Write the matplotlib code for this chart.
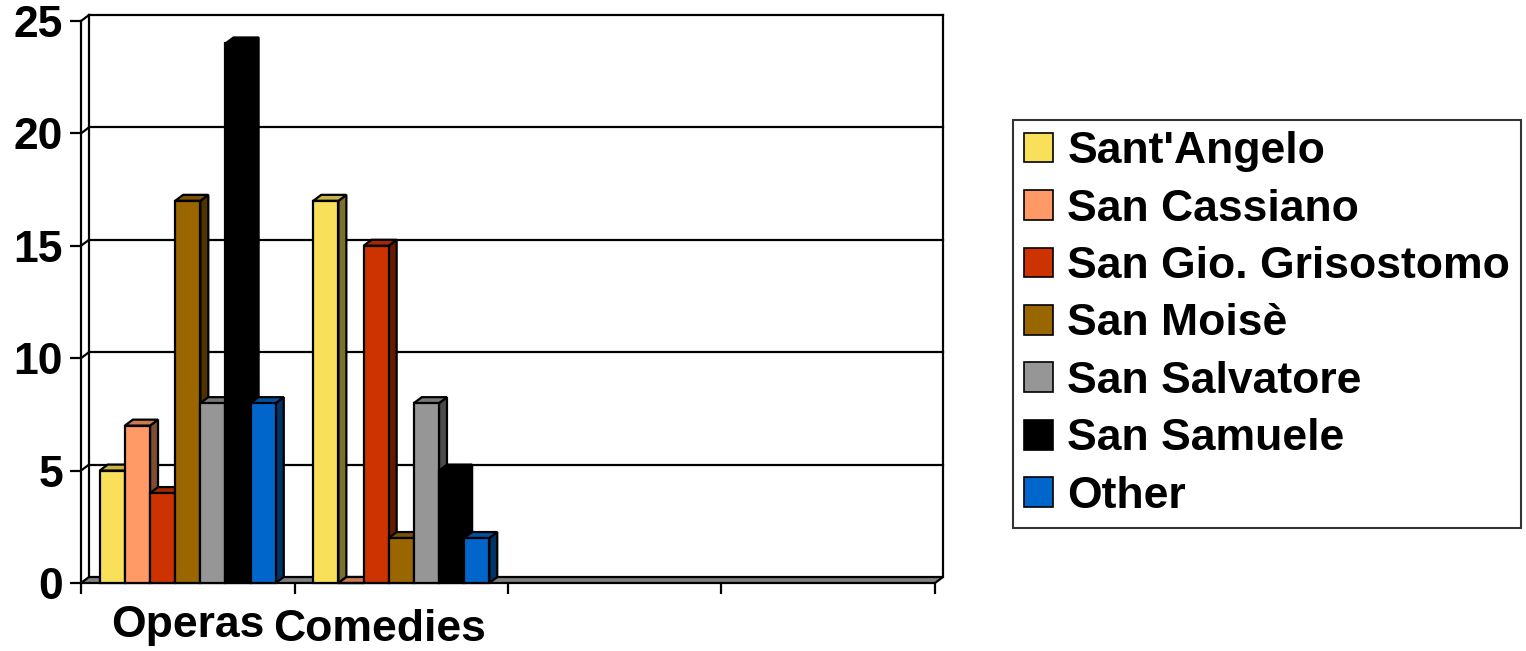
import numpy as np
import matplotlib
matplotlib.use('Agg')
import matplotlib.pyplot as plt
from matplotlib.patches import Polygon, Patch
from matplotlib.transforms import ScaledTranslation

plt.rcParams['font.family'] = ['Liberation Sans', 'DejaVu Sans']
plt.rcParams['font.weight'] = 'bold'

categories = ['Operas', 'Comedies', '', '']
series = ["Sant'Angelo", 'San Cassiano', 'San Gio. Grisostomo', 'San Moisè',
          'San Salvatore', 'San Samuele', 'Other']
operas = [5, 7, 4, 17, 8, 24, 8]
comedies = [17, 0, 15, 2, 8, 5, 2]
empty3 = [0, 0, 0, 0, 0, 0, 0]
empty4 = [0, 0, 0, 0, 0, 0, 0]
colors = ['#F9E05A', '#FF9966', '#CC3300', '#996600', '#969696', '#000000', '#0066CC']

values = np.array([operas, comedies, empty3, empty4])  # categories x series
show = [True, True, False, False]

W, H = 1526, 651
fig = plt.figure(figsize=(W / 100, H / 100), dpi=100)
ax = fig.add_axes([81 / W, (H - 583) / H, 854 / W, (583 - 21) / H])
ax.set_xlim(0, 4)
ax.set_ylim(0, 25)

# depth offset of the pseudo 3d box
dx = 8 / 213.5
dy = 6 / 22.48
lw = 1.6
fs = 32


def shade(c, f):
    r, g, b = matplotlib.colors.to_rgb(c)
    return (r * f, g * f, b * f)


# back wall, left wall lines, grid
ax.plot([dx, dx], [dy, 25 + dy], color='black', lw=lw, clip_on=False, zorder=1)
ax.plot([4 + dx, 4 + dx], [dy, 25 + dy], color='black', lw=lw, clip_on=False, zorder=1)
for v in range(5, 30, 5):
    ax.plot([dx, 4 + dx], [v + dy, v + dy], color='black', lw=lw, clip_on=False, zorder=1)
    ax.plot([0, dx], [v, v + dy], color='black', lw=lw, clip_on=False, zorder=1)

# floor
floor = Polygon([(0, 0), (4, 0), (4 + dx, dy), (dx, dy)], closed=True,
                facecolor='#808080', edgecolor='black', lw=lw, clip_on=False, zorder=2)
ax.add_patch(floor)

# bars
n = len(series)
bw = 0.1178
gap = (1 - n * bw) / 2
z = 3
for ci in range(len(categories)):
    if not show[ci]:
        continue
    for si in range(n):
        v = values[ci, si]
        x0 = ci + gap + si * bw
        c = colors[si]
        side = Polygon([(x0 + bw, 0), (x0 + bw + dx, dy), (x0 + bw + dx, v + dy), (x0 + bw, v)],
                       closed=True, facecolor=shade(c, 0.5), edgecolor='black', lw=lw,
                       clip_on=False, zorder=z)
        top = Polygon([(x0, v), (x0 + bw, v), (x0 + bw + dx, v + dy), (x0 + dx, v + dy)],
                      closed=True, facecolor=shade(c, 0.8), edgecolor='black', lw=lw,
                      clip_on=False, zorder=z)
        front = Polygon([(x0, 0), (x0 + bw, 0), (x0 + bw, v), (x0, v)],
                        closed=True, facecolor=c, edgecolor='black', lw=lw,
                        clip_on=False, zorder=z + 0.5)
        ax.add_patch(side)
        ax.add_patch(top)
        ax.add_patch(front)
        z += 1

# axes styling
for s in ['top', 'right', 'bottom']:
    ax.spines[s].set_visible(False)
ax.spines['left'].set_linewidth(lw)
ax.spines['left'].set_zorder(1)
ax.set_yticks(range(0, 30, 5))
ax.tick_params(axis='y', direction='out', length=8, width=lw, labelsize=fs, pad=5)
ax.set_xticks(np.arange(len(categories)) + 0.5)
ax.set_xticklabels(categories)
ax.set_xticks(range(0, 5), minor=True)
ax.tick_params(axis='x', which='major', length=0, labelsize=fs, pad=16)
ax.tick_params(axis='x', which='minor', direction='out', length=8, width=lw)
for t in ax.get_yticklabels() + ax.get_xticklabels():
    t.set_fontweight('bold')
# Excel nudged the second label left
lab = ax.get_xticklabels()[1]
lab.set_transform(lab.get_transform() + ScaledTranslation(-0.22, -0.04, fig.dpi_scale_trans))

handles = [Patch(facecolor=c, edgecolor='black', lw=1.2) for c in colors]
leg = fig.legend(handles, series, loc='upper left', bbox_to_anchor=(1013 / W, 1 - 120 / H),
                 prop={'weight': 'bold', 'size': fs}, frameon=True, fancybox=False,
                 edgecolor='black', handlelength=0.65, handleheight=0.65,
                 handletextpad=0.32, borderpad=0.25, labelspacing=0.37, borderaxespad=0)
leg.get_frame().set_linewidth(1.5)

fig.savefig('out.png', dpi=100)
